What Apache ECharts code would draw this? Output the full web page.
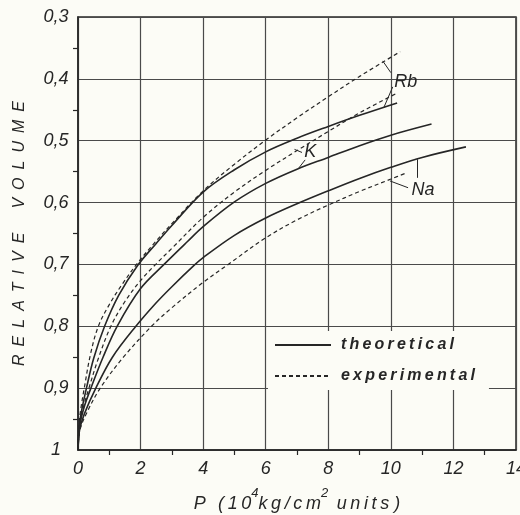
<!DOCTYPE html>
<html>
<head>
<meta charset="UTF-8">
<title>Relative volume of alkali metals</title>
<script src="https://cdn.jsdelivr.net/npm/echarts@6.0.0/dist/echarts.min.js"></script>
<style>
    * { margin: 0; padding: 0; }
    body { background: #fcfcf6; }
    #main { width: 520px; height: 515px; }
</style>
</head>
<body>
<div id="main"></div>
<script>
// pressure P (10^4 kg/cm2) and relative volume
var pRbExp = [0, 0.04, 0.1, 0.2, 0.4, 0.65, 1.0, 1.4, 1.9, 2.5, 3, 4, 5, 6, 7, 8, 9, 10.3];
var vRbExp = [1, 0.955, 0.93, 0.9, 0.845, 0.8, 0.765, 0.733, 0.698, 0.662, 0.634, 0.581, 0.538, 0.499, 0.463, 0.429, 0.396, 0.356];

var pRbTh = [0, 0.05, 0.12, 0.27, 0.5, 0.85, 1.3, 1.9, 2.5, 3, 4, 5, 6, 7, 8, 9, 10.2];
var vRbTh = [1, 0.958, 0.935, 0.9, 0.852, 0.8, 0.75, 0.702, 0.666, 0.637, 0.583, 0.547, 0.518, 0.496, 0.477, 0.459, 0.439];

var pKExp = [0, 0.05, 0.15, 0.35, 0.65, 1.05, 1.5, 2, 2.5, 3, 4, 5, 6, 7, 8, 9, 10.2];
var vKExp = [1, 0.96, 0.935, 0.9, 0.852, 0.8, 0.76, 0.726, 0.699, 0.674, 0.624, 0.583, 0.548, 0.516, 0.485, 0.455, 0.423];

var pKTh = [0, 0.05, 0.2, 0.45, 0.8, 1.25, 2, 2.75, 3.5, 4, 5, 6, 7, 8, 9, 10, 11.3];
var vKTh = [1, 0.962, 0.93, 0.895, 0.85, 0.8, 0.739, 0.7, 0.663, 0.639, 0.599, 0.569, 0.546, 0.527, 0.508, 0.491, 0.473];

var pNaTh = [0, 0.05, 0.2, 0.57, 1.1, 1.85, 2.5, 3, 3.7, 4, 5, 6, 7, 8, 9, 10, 11, 12.4];
var vNaTh = [1, 0.968, 0.942, 0.9, 0.85, 0.8, 0.762, 0.736, 0.702, 0.689, 0.653, 0.625, 0.602, 0.581, 0.561, 0.543, 0.527, 0.51];

var pNaExp = [0, 0.05, 0.25, 0.71, 1.45, 2.35, 3, 4, 4.8, 6, 7, 8, 9, 10, 10.5];
var vNaExp = [1, 0.97, 0.943, 0.9, 0.85, 0.8, 0.77, 0.729, 0.7, 0.657, 0.628, 0.604, 0.582, 0.562, 0.552];

// curve names and where they sit (data units)
var curveLabels = [
    { name: 'Rb', coord: [10.48, 0.405] },
    { name: 'K', coord: [7.42, 0.518] },
    { name: 'Na', coord: [11.03, 0.579] }
];
var leaders = [
    [[9.74, 0.371], [10.0, 0.39]],
    [[9.77, 0.447], [10.06, 0.413]],
    [[6.92, 0.514], [7.16, 0.519]],
    [[7.06, 0.544], [7.26, 0.531]],
    [[10.84, 0.53], [10.84, 0.56]],
    [[9.97, 0.565], [10.55, 0.576]]
];

var ink = '#262626';
var font = 'Liberation Sans';

function pairs(p, v) {
    return p.map(function (x, i) { return [x, v[i]]; });
}
function spaced(s, gap) {
    return s.split('').join(gap);
}
function curve(name, p, v, dashed) {
    return {
        name: name,
        type: 'line',
        data: pairs(p, v),
        showSymbol: false,
        symbol: 'none',
        smooth: 0.35,
        lineStyle: {
            color: ink,
            width: dashed ? 1.2 : 1.6,
            type: dashed ? [4, 3] : 'solid'
        },
        itemStyle: { color: ink },
        z: 3
    };
}

var series = [
    curve('theoretical', pRbTh, vRbTh, false),
    curve('experimental', pRbExp, vRbExp, true),
    curve('theoretical', pKTh, vKTh, false),
    curve('experimental', pKExp, vKExp, true),
    curve('theoretical', pNaTh, vNaTh, false),
    curve('experimental', pNaExp, vNaExp, true)
];

// labels and leader lines hang on the first series
series[0].markPoint = {
    silent: true,
    symbol: 'circle',
    symbolSize: 1,
    itemStyle: { color: 'rgba(0,0,0,0)' },
    label: {
        show: true,
        position: 'inside',
        formatter: '{b}',
        color: ink,
        fontFamily: font,
        fontStyle: 'italic',
        fontSize: 18
    },
    data: curveLabels.map(function (c) { return { name: c.name, coord: c.coord }; })
};
series[0].markLine = {
    silent: true,
    symbol: ['none', 'none'],
    label: { show: false },
    lineStyle: { color: ink, width: 1, type: 'solid' },
    data: leaders.map(function (l) { return [{ coord: l[0] }, { coord: l[1] }]; })
};

var th = '\u2009';
var xName = spaced('P (10', th) + '{s|4}' + spaced('kg/cm', th) + '{s|2}' + th + ' ' + spaced('units', th) + ' )';
var yName = spaced('RELATIVE', '\u2002') + '\u2003\u2002' + spaced('VOLUME', '\u2002');

var myChart = echarts.init(document.getElementById('main'));
var option = {
    backgroundColor: '#fcfcf6',
    animation: false,
    grid: {
        left: 78, top: 17, right: 4, bottom: 65,
        show: true,
        borderColor: ink,
        borderWidth: 1.5,
        outerBoundsMode: 'none'
    },
    legend: {
        data: ['theoretical', 'experimental'],
        orient: 'vertical',
        left: 268,
        top: 331,
        padding: [6, 14, 6, 6],
        itemGap: 15,
        itemWidth: 56,
        itemHeight: 14,
        backgroundColor: '#fcfcf6',
        selectedMode: false,
        itemStyle: { opacity: 0, color: 'rgba(0,0,0,0)', borderWidth: 0 },
        formatter: function (n) { return spaced(n, '\u2009'); },
        textStyle: {
            color: ink,
            fontFamily: font,
            fontStyle: 'italic',
            fontWeight: 'bold',
            fontSize: 16,
            padding: [0, 0, 0, 5]
        }
    },
    xAxis: {
        type: 'value',
        min: 0,
        max: 14,
        interval: 2,
        name: xName,
        nameLocation: 'middle',
        nameGap: 37,
        nameTextStyle: {
            color: ink,
            fontFamily: font,
            fontStyle: 'italic',
            fontSize: 18,
            lineHeight: 34,
            rich: {
                s: { fontFamily: font, fontStyle: 'italic', fontSize: 13, lineHeight: 14, verticalAlign: 'top', color: ink }
            }
        },
        axisLine: { show: true, lineStyle: { color: ink, width: 1.5 } },
        axisTick: { show: false },
        minorTick: { show: true, splitNumber: 2, length: 5, lineStyle: { color: ink, width: 1.2 } },
        axisLabel: { color: ink, fontFamily: font, fontStyle: 'italic', fontSize: 18, margin: 10 },
        splitLine: { show: true, lineStyle: { color: '#4a4a4a', width: 1.2 } }
    },
    yAxis: {
        type: 'value',
        inverse: true,
        min: 0.3,
        max: 1,
        interval: 0.1,
        name: yName,
        nameLocation: 'middle',
        nameGap: 50,
        nameTextStyle: { color: ink, fontFamily: font, fontStyle: 'italic', fontSize: 16 },
        axisLine: { show: true, lineStyle: { color: ink, width: 1.5 } },
        axisTick: { show: false },
        minorTick: { show: true, splitNumber: 2, length: 5, lineStyle: { color: ink, width: 1.2 } },
        axisLabel: {
            color: ink, fontFamily: font, fontStyle: 'italic', fontSize: 18,
            align: 'center', margin: 22,
            formatter: function (v) {
                var r = Math.round(v * 10) / 10;
                return r === 1 ? '1' : r.toFixed(1).replace('.', ',');
            }
        },
        splitLine: { show: true, lineStyle: { color: '#4a4a4a', width: 1.2 } }
    },
    series: series
};
myChart.setOption(option);
</script>
</body>
</html>
